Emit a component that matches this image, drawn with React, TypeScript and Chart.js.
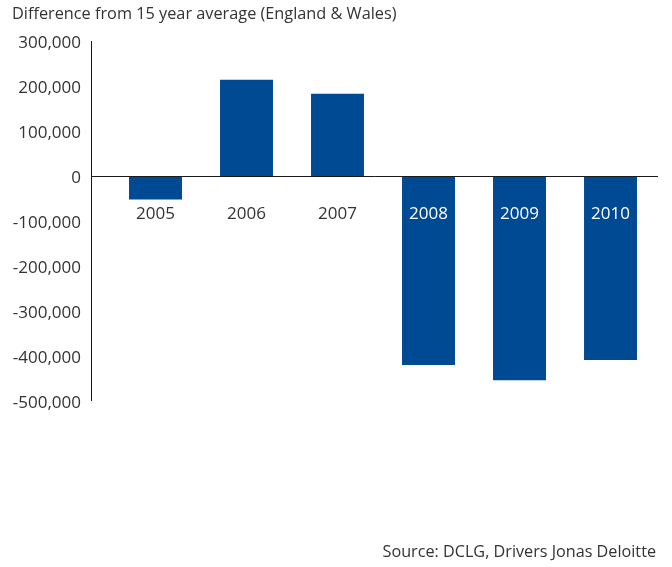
import React, { useEffect, useRef } from "react";
import { Chart, registerables } from "chart.js";

Chart.register(...registerables);

const titleText = "Difference from 15 year average (England & Wales)";
const sourceText = "Source: DCLG, Drivers Jonas Deloitte";
const categories = ["2005", "2006", "2007", "2008", "2009", "2010"];
const values = [-52000, 214000, 183000, -420000, -454000, -409000];
const yMin = -500000;
const yMax = 300000;
const yStep = 100000;

const BAR = "#004A93";
const TEXT = "#333333";
const FONT = "'Open Sans', 'Noto Sans', sans-serif";

const overlay = {
  id: "overlay",
  afterDatasetsDraw(chart: any) {
    const { ctx, chartArea, scales } = chart;
    const x = scales.x;
    const y = scales.y;
    const zeroY = Math.round(y.getPixelForValue(0)) + 0.5;
    const axisX = Math.round(chartArea.left - 19) + 0.5;
    ctx.save();
    ctx.strokeStyle = "#1a1a1a";
    ctx.lineWidth = 1;
    ctx.beginPath();
    ctx.moveTo(axisX, chartArea.top);
    ctx.lineTo(axisX, chartArea.bottom);
    ctx.moveTo(axisX, zeroY);
    ctx.lineTo(chartArea.right + 2, zeroY);
    ctx.stroke();

    ctx.font = "17px " + FONT;
    ctx.textAlign = "center";
    ctx.textBaseline = "middle";
    categories.forEach((c, i) => {
      const cx = x.getPixelForValue(i);
      const ly = zeroY + 38;
      const barEnd = y.getPixelForValue(values[i]);
      ctx.fillStyle = barEnd > ly + 12 ? "#ffffff" : TEXT;
      ctx.fillText(c, cx, ly);
    });
    ctx.restore();
  },
};

export default function App() {
  const ref = useRef<HTMLCanvasElement | null>(null);

  useEffect(() => {
    if (!ref.current) return;
    const chart = new Chart(ref.current, {
      type: "bar",
      data: {
        labels: categories,
        datasets: [
          {
            data: values,
            backgroundColor: BAR,
            borderWidth: 0,
            barPercentage: 0.582,
            categoryPercentage: 1,
          },
        ],
      },
      options: {
        animation: false,
        responsive: false,
        maintainAspectRatio: false,
        layout: { padding: { left: 0, right: 16, top: 41, bottom: 166 } },
        plugins: {
          legend: { display: false },
          tooltip: { enabled: false },
          title: { display: false },
        },
        scales: {
          x: {
            display: false,
          },
          y: {
            min: yMin,
            max: yMax,
            grid: { display: false, drawTicks: false },
            border: { display: false },
            afterFit: (scale: any) => {
              scale.width = 110;
            },
            ticks: {
              stepSize: yStep,
              padding: 29,
              labelOffset: 2,
              color: TEXT,
              font: { family: FONT, size: 17 },
              callback: (v: any) => Number(v).toLocaleString("en-US"),
            },
          },
        },
      },
      plugins: [overlay],
    });
    return () => chart.destroy();
  }, []);

  return (
    <div
      style={{
        position: "fixed",
        left: 0,
        top: 0,
        width: 672,
        height: 567,
        background: "#ffffff",
        fontFamily: FONT,
        color: TEXT,
      }}
    >
      <canvas
        ref={ref}
        width={672}
        height={567}
        style={{ position: "absolute", left: 0, top: 0, width: 672, height: 567 }}
      />
      <div
        style={{
          position: "absolute",
          left: 12,
          top: 5,
          fontSize: 16.3,
          lineHeight: "16px",
          whiteSpace: "nowrap",
        }}
      >
        {titleText}
      </div>
      <div
        style={{
          position: "absolute",
          right: 16,
          top: 543,
          fontSize: 16.2,
          lineHeight: "16px",
          whiteSpace: "nowrap",
        }}
      >
        {sourceText}
      </div>
    </div>
  );
}
